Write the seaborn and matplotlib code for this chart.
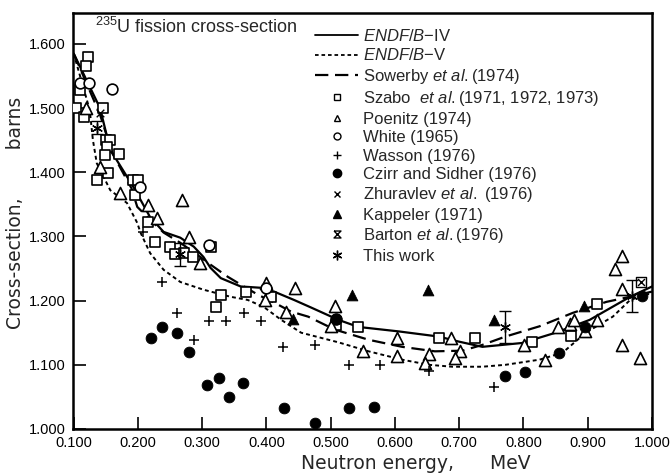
import numpy as np
import matplotlib
matplotlib.use("Agg")
import matplotlib.pyplot as plt
import seaborn as sns
from matplotlib.lines import Line2D

# =========================
# data
# =========================
# evaluated curves
endf4_e = [0.100, 0.141, 0.157, 0.193, 0.219, 0.240, 0.266, 0.287, 0.302, 0.313, 0.329, 0.360,
           0.391, 0.412, 0.443, 0.470, 0.512, 0.543, 0.606, 0.668, 0.700, 0.736, 0.798, 0.850,
           0.903, 0.966, 1.000]
endf4_s = [1.585, 1.500, 1.435, 1.377, 1.330, 1.307, 1.298, 1.284, 1.268, 1.251, 1.235, 1.222,
           1.220, 1.214, 1.201, 1.189, 1.170, 1.159, 1.152, 1.144, 1.136, 1.128, 1.134, 1.150,
           1.170, 1.206, 1.222]

endf5_e = [0.100, 0.125, 0.130, 0.136, 0.157, 0.183, 0.199, 0.204, 0.219, 0.240, 0.266, 0.302,
           0.344, 0.371, 0.396, 0.423, 0.454, 0.512, 0.559, 0.611, 0.653, 0.689, 0.736, 0.772,
           0.825, 0.861, 0.897, 0.939, 0.966, 1.000]
endf5_s = [1.585, 1.497, 1.450, 1.414, 1.372, 1.352, 1.321, 1.306, 1.274, 1.248, 1.229, 1.217,
           1.206, 1.201, 1.190, 1.170, 1.150, 1.135, 1.121, 1.108, 1.100, 1.097, 1.097, 1.100,
           1.108, 1.119, 1.150, 1.175, 1.201, 1.212]

sowerby_e = [0.100, 0.141, 0.160, 0.190, 0.199, 0.219, 0.240, 0.266, 0.293, 0.313, 0.340, 0.365,
             0.387, 0.412, 0.438, 0.465, 0.506, 0.559, 0.611, 0.662, 0.705, 0.736, 0.772, 0.825,
             0.877, 0.929, 0.966, 1.000]
sowerby_s = [1.585, 1.490, 1.430, 1.375, 1.346, 1.326, 1.306, 1.290, 1.271, 1.256, 1.237, 1.222,
             1.209, 1.197, 1.183, 1.175, 1.155, 1.139, 1.128, 1.121, 1.122, 1.131, 1.144, 1.160,
             1.181, 1.198, 1.206, 1.214]

# measurements
szabo_e = [0.122, 0.119, 0.110, 0.103, 0.116, 0.146, 0.150, 0.157, 0.152, 0.149, 0.171, 0.136,
           0.154, 0.193, 0.200, 0.196, 0.215, 0.227, 0.250, 0.258, 0.271, 0.285, 0.313, 0.330,
           0.321, 0.368, 0.407, 0.509, 0.543, 0.669, 0.725, 0.814, 0.874, 0.914]
szabo_s = [1.579, 1.566, 1.528, 1.500, 1.486, 1.500, 1.450, 1.450, 1.439, 1.427, 1.428, 1.388,
           1.399, 1.388, 1.388, 1.365, 1.323, 1.292, 1.284, 1.273, 1.274, 1.268, 1.283, 1.209,
           1.190, 1.214, 1.205, 1.162, 1.159, 1.142, 1.142, 1.136, 1.145, 1.195]

poenitz_e = [0.119, 0.141, 0.172, 0.216, 0.229, 0.269, 0.279, 0.296, 0.399, 0.397, 0.445, 0.431,
             0.506, 0.501, 0.603, 0.551, 0.603, 0.653, 0.647, 0.687, 0.701, 0.694, 0.801, 0.833,
             0.853, 0.872, 0.879, 0.895, 0.914, 0.953, 0.943, 0.953, 0.953, 0.981]
poenitz_s = [1.500, 1.408, 1.368, 1.349, 1.329, 1.357, 1.299, 1.259, 1.228, 1.201, 1.220, 1.183,
             1.191, 1.160, 1.142, 1.121, 1.113, 1.117, 1.103, 1.142, 1.122, 1.110, 1.131, 1.108,
             1.159, 1.163, 1.170, 1.152, 1.170, 1.270, 1.250, 1.218, 1.131, 1.111]

white_e = [0.110, 0.124, 0.160, 0.204, 0.310, 0.399, 0.509]
white_s = [1.539, 1.539, 1.529, 1.377, 1.287, 1.220, 1.172]

wasson_e = [0.208, 0.238, 0.261, 0.287, 0.310, 0.337, 0.365, 0.392, 0.426, 0.476, 0.528, 0.576,
            0.653, 0.754]
wasson_s = [1.307, 1.229, 1.180, 1.139, 1.169, 1.169, 1.180, 1.169, 1.128, 1.131, 1.100, 1.100,
            1.091, 1.066]

czirr_e = [0.221, 0.238, 0.261, 0.279, 0.307, 0.326, 0.342, 0.364, 0.427, 0.476, 0.509, 0.528,
           0.568, 0.772, 0.803, 0.855, 0.895, 0.985]
czirr_s = [1.141, 1.159, 1.150, 1.120, 1.069, 1.080, 1.050, 1.071, 1.032, 1.010, 1.172, 1.032,
           1.035, 1.082, 1.089, 1.119, 1.159, 1.207]

zhuravlev_e = [0.141]
zhuravlev_s = [1.492]

kappeler_e = [0.442, 0.533, 0.651, 0.754, 0.894]
kappeler_s = [1.172, 1.209, 1.217, 1.170, 1.191]

barton_e = [0.983]
barton_s = [1.229]

thiswork_e = [0.136, 0.266, 0.772, 0.969]
thiswork_s = [1.469, 1.272, 1.159, 1.207]
thiswork_err = [0.010, 0.018, 0.025, 0.025]

x_ticks = [0.1, 0.2, 0.3, 0.4, 0.5, 0.6, 0.7, 0.8, 0.9, 1.0]
y_ticks = [1.0, 1.1, 1.2, 1.3, 1.4, 1.5, 1.6]

# =========================
# style
# =========================
sns.set_style("ticks")
plt.rcParams['font.family'] = ['Liberation Sans', 'DejaVu Sans']
plt.rcParams['mathtext.fontset'] = 'custom'
plt.rcParams['mathtext.rm'] = 'Liberation Sans'
plt.rcParams['mathtext.it'] = 'Liberation Sans:italic'

hourglass = [(-1, 1), (1, 1), (-1, -1), (1, -1), (-1, 1)]

fig = plt.figure(figsize=(6.7, 4.76), dpi=100)
ax = fig.add_axes([73 / 670, 47 / 476, 579 / 670, 416 / 476])

# curves
sns.lineplot(x=endf4_e, y=endf4_s, ax=ax, color='black', lw=1.6, estimator=None, sort=False)
sns.lineplot(x=endf5_e, y=endf5_s, ax=ax, color='black', lw=1.4, estimator=None, sort=False,
             dashes=False).lines[-1].set_dashes([2, 1.6])
sns.lineplot(x=sowerby_e, y=sowerby_s, ax=ax, color='black', lw=1.6, estimator=None, sort=False,
             dashes=False).lines[-1].set_dashes([6, 3])

# measured points
ms = 60
sns.scatterplot(x=szabo_e, y=szabo_s, ax=ax, marker='s', s=ms, facecolor='white',
                edgecolor='black', linewidth=1.2, zorder=3)
sns.scatterplot(x=poenitz_e, y=poenitz_s, ax=ax, marker='^', s=ms + 15, facecolor='white',
                edgecolor='black', linewidth=1.2, zorder=3)
sns.scatterplot(x=white_e, y=white_s, ax=ax, marker='o', s=ms, facecolor='white',
                edgecolor='black', linewidth=1.2, zorder=3)
sns.scatterplot(x=wasson_e, y=wasson_s, ax=ax, marker='+', s=ms, color='black',
                linewidth=1.1, zorder=3)
sns.scatterplot(x=czirr_e, y=czirr_s, ax=ax, marker='o', s=ms, color='black',
                edgecolor='black', zorder=4)
sns.scatterplot(x=zhuravlev_e, y=zhuravlev_s, ax=ax, marker='x', s=30, color='black',
                linewidth=1.0, zorder=4)
sns.scatterplot(x=kappeler_e, y=kappeler_s, ax=ax, marker='^', s=ms, color='black',
                edgecolor='black', zorder=4)
sns.scatterplot(x=barton_e, y=barton_s, ax=ax, marker='s', s=45, facecolor='white',
                edgecolor='black', linewidth=1.0, zorder=4)
sns.scatterplot(x=barton_e, y=barton_s, ax=ax, marker='x', s=25, color='black',
                linewidth=1.0, zorder=5)
ax.errorbar(thiswork_e, thiswork_s, yerr=thiswork_err, fmt='none', ecolor='black',
            elinewidth=1.0, capsize=4, capthick=1.0, zorder=4)
sns.scatterplot(x=thiswork_e, y=thiswork_s, ax=ax, marker=(6, 2, 0), s=50, color='black',
                linewidth=1.0, zorder=5)

# axes
ax.set_xlim(0.099, 1.0)
ax.set_ylim(1.0, 1.648)
ax.set_xticks(x_ticks)
ax.set_yticks(y_ticks)
ax.set_xticklabels([f"{v:.3f}" for v in x_ticks])
ax.set_yticklabels([f"{v:.3f}" for v in y_ticks])
ax.tick_params(direction='in', length=9, width=1.2, labelsize=10.5, pad=5, colors='black')
for sp in ax.spines.values():
    sp.set_visible(True)
    sp.set_linewidth(1.8)
    sp.set_color('black')

ax.set_xlabel("Neutron energy,      MeV", fontsize=13.5, family='DejaVu Sans', x=0.592,
              labelpad=3)
ax.set_ylabel("Cross-section,        barns", fontsize=13.5, family='DejaVu Sans', y=0.52,
              labelpad=3)

ax.text(0.038, 0.966, r"$^{235}$U fission cross-section", transform=ax.transAxes,
        fontsize=13, va='center', ha='left')

# legend
handles = [
    Line2D([], [], color='black', lw=1.3),
    Line2D([], [], color='black', lw=1.3, dashes=[2, 1.6]),
    Line2D([], [], color='black', lw=1.6, dashes=[6, 3]),
    Line2D([], [], ls='none', marker='s', ms=5, mfc='white', mec='black', mew=1.0),
    Line2D([], [], ls='none', marker='^', ms=5, mfc='white', mec='black', mew=1.0),
    Line2D([], [], ls='none', marker='o', ms=5, mfc='white', mec='black', mew=1.0),
    Line2D([], [], ls='none', marker='+', ms=6, color='black', mew=1.0),
    Line2D([], [], ls='none', marker='o', ms=6, color='black'),
    Line2D([], [], ls='none', marker='x', ms=4, color='black', mew=1.0),
    Line2D([], [], ls='none', marker='^', ms=6, color='black'),
    Line2D([], [], ls='none', marker=hourglass, ms=5, mfc='none', mec='black', mew=1.0),
    Line2D([], [], ls='none', marker=(6, 2, 0), ms=7, color='black', mew=1.0),
]
labels = [
    r"$\it{ENDF}$/$\it{B}$$-$IV",
    r"$\it{ENDF}$/$\it{B}$$-$V",
    r"Sowerby $\it{et\ al.}$(1974)",
    r"Szabo  $\it{et\ al.}$(1971, 1972, 1973)",
    "Poenitz (1974)",
    "White (1965)",
    "Wasson (1976)",
    "Czirr and Sidher (1976)",
    r"Zhuravlev $\it{et\ al.}$ (1976)",
    "Kappeler (1971)",
    r"Barton $\it{et\ al.}$(1976)",
    "This work",
]
ax.legend(handles, labels, loc='upper left', bbox_to_anchor=(315 / 670, 1 - 28 / 476),
          bbox_transform=fig.transFigure, frameon=False, fontsize=12, handlelength=2.6,
          handletextpad=0.3, labelspacing=0.205, borderpad=0, borderaxespad=0)

plt.savefig("out.png", dpi=100)
plt.close()
